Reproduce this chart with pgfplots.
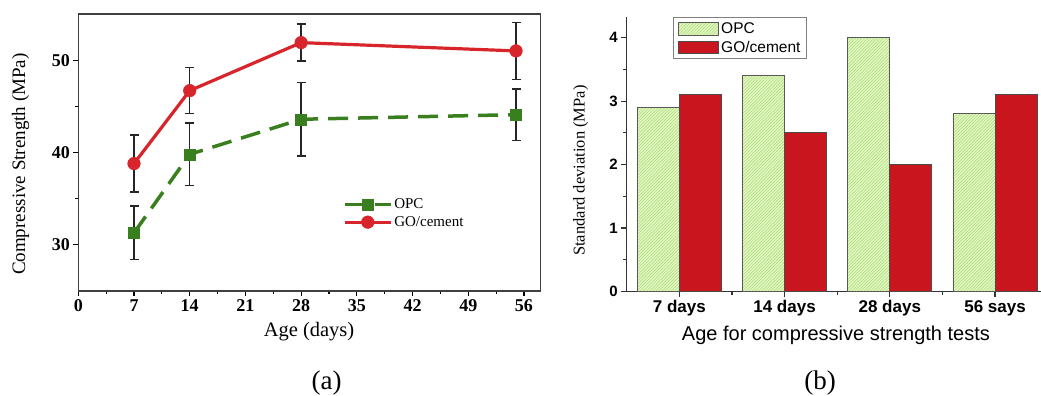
\documentclass[border=0pt]{standalone}
\usepackage{fontspec}
\setmainfont{Liberation Serif}
\newfontfamily\arial{Liberation Sans}
\usepackage{pgfplots}
\pgfplotsset{compat=1.18}
\usetikzlibrary{patterns.meta}
\definecolor{opcgreen}{HTML}{3A7F1F}
\definecolor{gored}{HTML}{D7252B}
\definecolor{barred}{HTML}{C9151D}
\definecolor{barlight}{HTML}{E2F8BE}
\definecolor{hatch}{HTML}{A9D77E}
\pgfplotsset{
  barlegend/.style={legend image code/.code={\draw[##1] (0pt,-6.3pt) rectangle (40.7pt,6.3pt);}},
  linelegend/.style={legend image code/.code={\draw[mark repeat=2, mark phase=2, ##1] plot coordinates {(0pt,0pt) (22.8pt,0pt) (45.6pt,0pt)};}},
}
\begin{document}
\begin{tikzpicture}[x=1pt,y=1pt]
\useasboundingbox (0,0) rectangle (1041,396);
% ---------- (a) ----------
\begin{axis}[
  at={(78.3pt,105pt)}, anchor=south west, scale only axis,
  width=462.4pt, height=277pt,
  xmin=0, xmax=58.1, ymin=25, ymax=55,
  xtick={0,7,...,56}, ytick={30,40,50},
  minor x tick num=1, minor y tick num=1,
  tick align=outside, tick pos=left,
  major tick length=5pt, minor tick length=3pt,
  axis line style={black!75, line width=1.2pt},
  every tick/.style={black, line width=1.2pt},
  /pgf/number format/assume math mode=true,
  ticklabel style={font=\bfseries\fontsize{18}{18}\selectfont},
  xlabel={Age (days)},
  xlabel style={at={(axis description cs:0.499,-0.147)}, anchor=center, font=\fontsize{20.5}{20.5}\selectfont},
  ylabel={Compressive Strength (MPa)},
  ylabel style={at={(axis description cs:-0.125,0.458)}, anchor=center, font=\fontsize{19}{19}\selectfont},
  legend style={draw=none, fill=none, at={(rel axis cs:0.566,0.28)}, anchor=west,
    font=\fontsize{15}{15}\selectfont, row sep=2pt},
  legend cell align=left,
]
\addplot[opcgreen, line width=3.5pt, dash pattern=on 20pt off 10pt, linelegend,
  mark=square*, mark size=5.5pt, mark options={solid, fill=opcgreen, draw=opcgreen, line width=0.5pt},
  error bars/.cd, y dir=both, y explicit,
  error bar style={solid, black!85, line width=1.5pt},
  error mark options={black!85, rotate=90, line width=1.5pt, mark size=4.5pt}]
  coordinates {(7,31.3) +- (0,2.9) (14,39.8) +- (0,3.4) (28,43.6) +- (0,4.0) (55,44.1) +- (0,2.8)};
\addlegendentry{OPC}
\addplot[gored, line width=3.2pt, linelegend,
  mark=*, mark size=6.3pt, mark options={solid, fill=gored, draw=gored, line width=0.5pt},
  error bars/.cd, y dir=both, y explicit,
  error bar style={solid, black!85, line width=1.5pt},
  error mark options={black!85, rotate=90, line width=1.5pt, mark size=4.5pt}]
  coordinates {(7,38.8) +- (0,3.1) (14,46.7) +- (0,2.5) (28,51.9) +- (0,2.0) (55,51.0) +- (0,3.1)};
\addlegendentry{GO/cement}
\end{axis}
\node[font=\fontsize{27}{27}\selectfont] at (326.6,13) {(a)};
% ---------- (b) ----------
\begin{axis}[
  at={(626.7pt,104.5pt)}, anchor=south west, scale only axis,
  width=414.3pt, height=274.8pt,
  xmin=0.5, xmax=4.437, ymin=0, ymax=4.33,
  axis lines*=left,
  ybar=0pt, bar width=0.4,
  xtick={1,2,3,4}, xticklabels={7 days,14 days,28 days,56 says},
  minor xtick={1.5,2.5,3.5},
  ytick={0,1,2,3,4}, minor y tick num=1,
  tick align=outside, tick pos=left,
  major tick length=5.5pt, minor tick length=3.5pt,
  axis line style={black!80, line width=1.2pt},
  every tick/.style={black!80, line width=1.2pt},
  /pgf/number format/assume math mode=true,
  xticklabel style={font=\arial\bfseries\fontsize{17}{17}\selectfont},
  yticklabel style={font=\arial\bfseries\fontsize{15}{15}\selectfont},
  xlabel={Age for compressive strength tests},
  xlabel style={at={(axis description cs:0.505,-0.158)}, anchor=center, font=\arial\fontsize{20}{20}\selectfont},
  ylabel={Standard deviation (MPa)},
  ylabel style={at={(axis description cs:-0.111,0.44)}, anchor=center, font=\fontsize{16.5}{16.5}\selectfont},
  legend style={at={(rel axis cs:0.1125,0.998)}, anchor=north west, draw=black!50, line width=0.8pt,
    font=\arial\fontsize{15.5}{15.5}\selectfont, row sep=2pt, inner xsep=4pt, inner ysep=3pt,
    every even column/.append style={text width=84pt}},
  legend cell align=left,
]
\addplot[fill=barlight, draw=black!65, line width=0.8pt, barlegend,
  postaction={pattern={Lines[angle=45,distance=2.2pt,line width=0.5pt]}, pattern color=hatch}]
  coordinates {(1,2.9) (2,3.4) (3,4.0) (4,2.8)};
\addlegendentry{OPC}
\addplot[fill=barred, draw=black!70, line width=0.8pt, barlegend]
  coordinates {(1,3.1) (2,2.5) (3,2.0) (4,3.1)};
\addlegendentry{GO/cement}
\end{axis}
\node[font=\fontsize{27}{27}\selectfont] at (820,13) {(b)};
\end{tikzpicture}
\end{document}
